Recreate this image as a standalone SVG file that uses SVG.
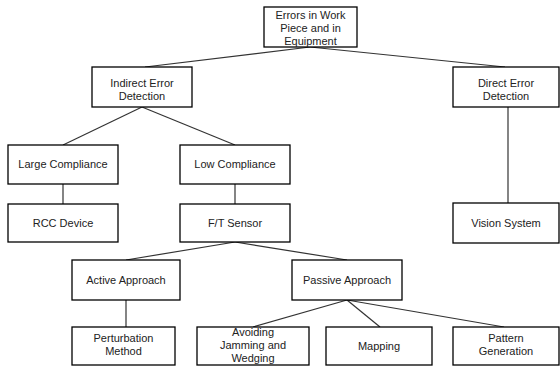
<svg xmlns="http://www.w3.org/2000/svg" width="560" height="367" viewBox="0 0 560 367">
  <style>
    .box { fill: #ffffff; stroke: #000000; stroke-width: 1.3; }
    .lbl { font-family: "Liberation Sans", Arial, sans-serif; font-size: 11px; fill: #222222; text-anchor: middle; }
    .edge { stroke: #333333; stroke-width: 1.2; fill: none; }
  </style>
  <rect width="560" height="367" fill="#ffffff"/>

  <!-- connectors -->
  <g id="connectors">
    <line class="edge" x1="310" y1="47" x2="145" y2="67"/>
    <line class="edge" x1="310" y1="47" x2="505" y2="67"/>
    <line class="edge" x1="142" y1="107" x2="63" y2="145"/>
    <line class="edge" x1="142" y1="107" x2="235" y2="145"/>
    <line class="edge" x1="63" y1="184" x2="63" y2="204"/>
    <line class="edge" x1="235" y1="184" x2="235" y2="204"/>
    <line class="edge" x1="508" y1="107" x2="508" y2="203"/>
    <line class="edge" x1="235" y1="242" x2="126" y2="260"/>
    <line class="edge" x1="235" y1="242" x2="347" y2="260"/>
    <line class="edge" x1="126" y1="300" x2="126" y2="327"/>
    <line class="edge" x1="347" y1="300" x2="253" y2="327"/>
    <line class="edge" x1="347" y1="300" x2="380" y2="327"/>
    <line class="edge" x1="347" y1="300" x2="504" y2="327"/>
  </g>

  <g id="errors">
    <rect class="box" x="264" y="7" width="93" height="40"/>
    <text class="lbl" x="310.5" y="19">Errors in Work</text>
    <text class="lbl" x="310.5" y="32">Piece and in</text>
    <text class="lbl" x="310.5" y="45">Equipment</text>
  </g>

  <g id="indirect">
    <rect class="box" x="92" y="67" width="100" height="40"/>
    <text class="lbl" x="142" y="87">Indirect Error</text>
    <text class="lbl" x="142" y="100">Detection</text>
  </g>

  <g id="direct">
    <rect class="box" x="453" y="67" width="106" height="40"/>
    <text class="lbl" x="506" y="87">Direct Error</text>
    <text class="lbl" x="506" y="100">Detection</text>
  </g>

  <g id="large">
    <rect class="box" x="8" y="145" width="110" height="39"/>
    <text class="lbl" x="63" y="168">Large Compliance</text>
  </g>

  <g id="low">
    <rect class="box" x="180" y="145" width="110" height="39"/>
    <text class="lbl" x="235" y="168">Low Compliance</text>
  </g>

  <g id="rcc">
    <rect class="box" x="8" y="204" width="110" height="38"/>
    <text class="lbl" x="63" y="227">RCC Device</text>
  </g>

  <g id="ft">
    <rect class="box" x="180" y="204" width="110" height="38"/>
    <text class="lbl" x="235" y="227">F/T Sensor</text>
  </g>

  <g id="vision">
    <rect class="box" x="453" y="203" width="106" height="40"/>
    <text class="lbl" x="506" y="227">Vision System</text>
  </g>

  <g id="active">
    <rect class="box" x="72" y="260" width="108" height="40"/>
    <text class="lbl" x="126" y="284">Active Approach</text>
  </g>

  <g id="passive">
    <rect class="box" x="292" y="260" width="110" height="40"/>
    <text class="lbl" x="347" y="284">Passive Approach</text>
  </g>

  <g id="perturbation">
    <rect class="box" x="72" y="327" width="103" height="38"/>
    <text class="lbl" x="123.5" y="342">Perturbation</text>
    <text class="lbl" x="123.5" y="355">Method</text>
  </g>

  <g id="avoiding">
    <rect class="box" x="197" y="327" width="112" height="38"/>
    <text class="lbl" x="253" y="336">Avoiding</text>
    <text class="lbl" x="253" y="349">Jamming and</text>
    <text class="lbl" x="253" y="362">Wedging</text>
  </g>

  <g id="mapping">
    <rect class="box" x="326" y="327" width="106" height="38"/>
    <text class="lbl" x="379" y="350">Mapping</text>
  </g>

  <g id="pattern">
    <rect class="box" x="453" y="327" width="106" height="38"/>
    <text class="lbl" x="506" y="342">Pattern</text>
    <text class="lbl" x="506" y="355">Generation</text>
  </g>
</svg>
